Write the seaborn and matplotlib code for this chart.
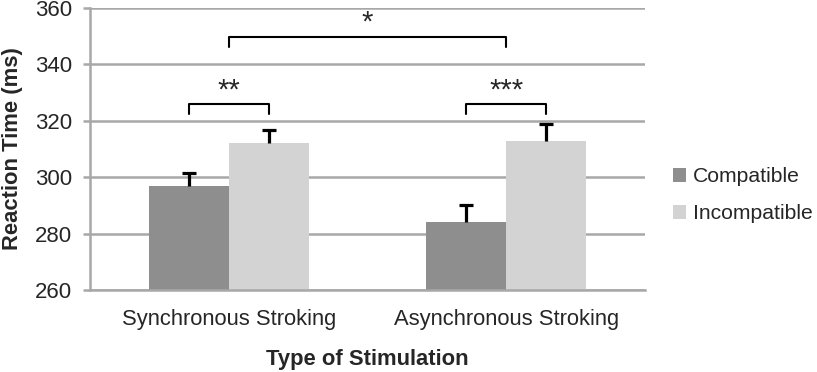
import matplotlib
matplotlib.use("Agg")
import matplotlib.pyplot as plt
import seaborn as sns
import pandas as pd
import numpy as np

# ---- data ----
categories = ["Synchronous Stroking", "Asynchronous Stroking"]
conditions = ["Compatible", "Incompatible"]
compatible_rt = [297, 284]
incompatible_rt = [312, 313]
compatible_err = [4.5, 6.0]
incompatible_err = [4.7, 5.8]
yticks = [260, 280, 300, 320, 340, 360]
# significance brackets: (label, bracket height, leg bottom)
within_sig = ["**", "***"]
within_bracket_y = [325.8, 325.8]
within_leg_y = [322.4, 322.4]
between_sig = "*"
between_bracket_y = 349.8
between_leg_y = 346.3

colors = {"Compatible": "#8e8e8e", "Incompatible": "#d3d3d3"}

df = pd.DataFrame({
    "Stimulation": categories * 2,
    "Condition": [conditions[0]] * 2 + [conditions[1]] * 2,
    "RT": compatible_rt + incompatible_rt,
})

sns.set_style("white")
plt.rcParams["font.family"] = ["Liberation Sans", "DejaVu Sans"]

fig = plt.figure(figsize=(8.17, 3.72), dpi=100)
ax = fig.add_axes([90 / 817, 82 / 372, 555 / 817, 282 / 372])

sns.barplot(data=df, x="Stimulation", y="RT", hue="Condition",
            order=categories, hue_order=conditions, palette=colors,
            width=0.575, errorbar=None, ax=ax, saturation=1,
            linewidth=0, zorder=2)

ax.set_ylim(260, 360)
ax.set_xlim(-0.5, 1.5)
ax.set_yticks(yticks)
ax.yaxis.grid(True, color="#a8a8a8", linewidth=1.8, zorder=0)
ax.set_axisbelow(True)

# error bars (upper only) using bar positions from the axes
patches = [p for p in ax.patches if p.get_height() > 0]
patches = sorted(patches, key=lambda p: p.get_x())
xs = np.array([p.get_x() + p.get_width() / 2 for p in patches])
vals = []
errs = []
for i in range(len(categories)):
    vals += [compatible_rt[i], incompatible_rt[i]]
    errs += [compatible_err[i], incompatible_err[i]]
vals = np.array(vals)
tops = vals + np.array(errs)
ax.errorbar(xs, tops, yerr=[np.array(errs), np.zeros(len(errs))], fmt="none",
            ecolor="black", elinewidth=2.3, capsize=0, zorder=3)
ax.plot(xs, tops, linestyle="none", marker="_", markersize=10,
        markeredgewidth=2.3, color="black", zorder=3)

# brackets
for i in range(len(categories)):
    x1, x2 = xs[2 * i], xs[2 * i + 1]
    yb, yl = within_bracket_y[i], within_leg_y[i]
    ax.plot([x1, x1, x2, x2], [yl, yb, yb, yl], color="black", lw=1.5,
            clip_on=False, zorder=4)
    ax.text((x1 + x2) / 2, yb + 0.1, within_sig[i], ha="center", va="bottom",
            fontsize=21, clip_on=False)
ax.plot([0, 0, 1, 1], [between_leg_y, between_bracket_y, between_bracket_y, between_leg_y],
        color="black", lw=1.5, clip_on=False, zorder=4)
ax.text(0.5, between_bracket_y + 0.1, between_sig, ha="center", va="bottom",
        fontsize=21, clip_on=False)

for s in ["top", "right"]:
    ax.spines[s].set_visible(False)
for s in ["left", "bottom"]:
    ax.spines[s].set_color("#a8a8a8")
    ax.spines[s].set_linewidth(1.8)

ax.tick_params(axis="y", length=5, width=1.8, color="#a8a8a8", labelsize=16, pad=8,
               left=True)
ax.tick_params(axis="x", length=0, labelsize=15.8, pad=14)

ax.set_ylabel("Reaction Time (ms)", fontsize=15.8, fontweight="bold")
ax.set_xlabel("Type of Stimulation", fontsize=15.8, fontweight="bold", labelpad=13)
ax.yaxis.set_label_coords(-67 / 555, 0.5)

ax.legend(loc="upper left", bbox_to_anchor=(1.035, 0.465), frameon=False,
          fontsize=15.2, handlelength=0.6, handleheight=0.6, handletextpad=0.35,
          labelspacing=0.85, borderaxespad=0)

fig.savefig("out.png", dpi=100)
